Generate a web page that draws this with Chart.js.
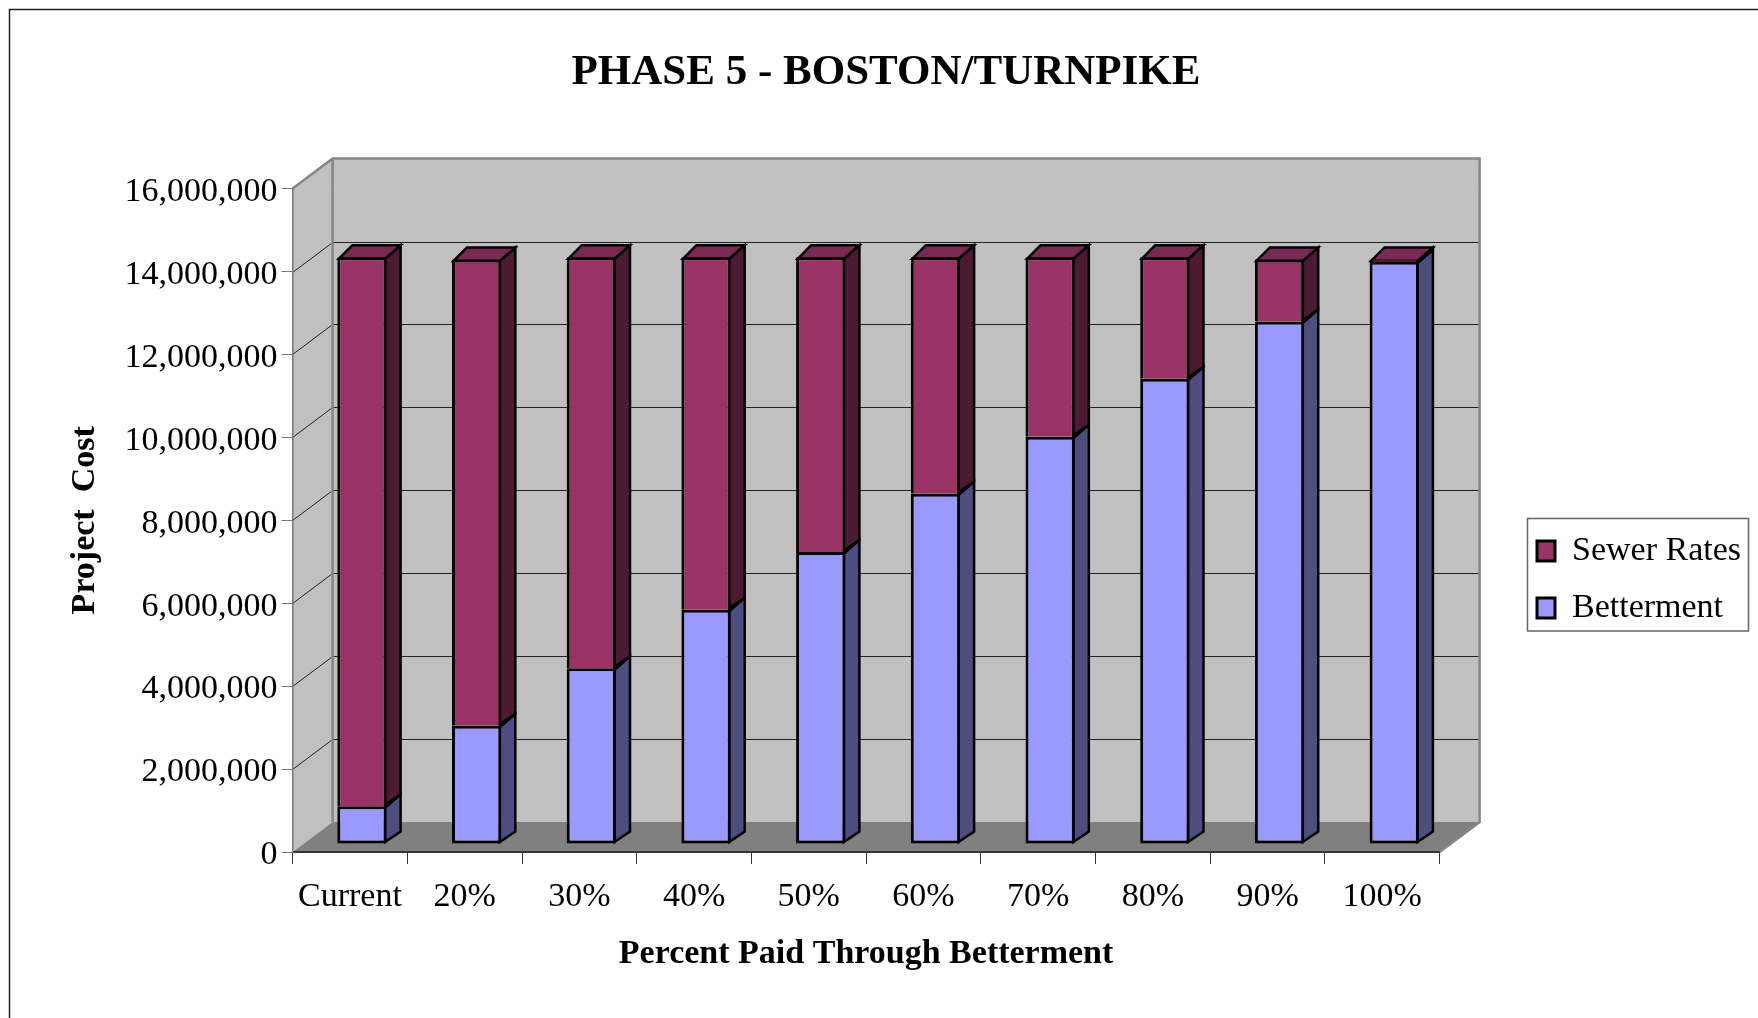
<!DOCTYPE html>
<html>
<head>
<meta charset="utf-8">
<title>Phase 5 - Boston/Turnpike</title>
<script src="https://cdn.jsdelivr.net/npm/chart.js@4/dist/chart.umd.min.js"></script>
<style>
  html, body { margin: 0; padding: 0; background: #fff; overflow: hidden; }
  canvas { display: block; }
</style>
</head>
<body>
<canvas id="myChart" width="1758" height="1018"></canvas>
<script>
const categories = ["Current", "20%", "30%", "40%", "50%", "60%", "70%", "80%", "90%", "100%"];
const betterment = [910000, 2850000, 4240000, 5650000, 7040000, 8450000, 9820000, 11220000, 12600000, 14040000];
const sewerRates = [13240000, 11250000, 9910000, 8500000, 7110000, 5700000, 4330000, 2930000, 1500000, 60000];
const yTicks = [0, 2000000, 4000000, 6000000, 8000000, 10000000, 12000000, 14000000, 16000000];

const serif = "'Liberation Serif', 'Times New Roman', serif";

// depth of the fake 3d box, and how deep the bars sit in it
const wallDx = 40, wallDy = 30;
const barShiftX = 12, barShiftY = 8;
const barDx = 14, barDy = 12;

const polygon = (ctx, pts, fill, stroke, lineWidth) => {
    ctx.beginPath();
    pts.forEach((p, i) => i ? ctx.lineTo(p[0], p[1]) : ctx.moveTo(p[0], p[1]));
    ctx.closePath();
    if (fill) {
        ctx.fillStyle = fill;
        ctx.fill();
    }
    if (stroke) {
        ctx.strokeStyle = stroke;
        ctx.lineWidth = lineWidth;
        ctx.lineJoin = 'miter';
        ctx.stroke();
    }
};

const box3d = {
    id: 'box3d',
    afterLayout(chart) {
        // legend sits outside the plot, move it to its own place
        const legend = chart.legend;
        const w = legend.width, h = legend.height;
        legend.left = 1514;
        legend.top = 511;
        legend.right = legend.left + w;
        legend.bottom = legend.top + h;
        legend.adjustHitBoxes();
        // title is centred on the whole page, not on the plot
        chart.titleBlock.left = 0;
        chart.titleBlock.right = 1772;
    },
    beforeDraw(chart) {
        const ctx = chart.ctx;
        const area = chart.chartArea;
        const y = chart.scales.y;
        const l = area.left, r = area.right, t = y.getPixelForValue(16000000), b = y.getPixelForValue(0);

        ctx.save();
        // page frame, runs off the right and bottom
        ctx.strokeStyle = '#222';
        ctx.lineWidth = 1.5;
        ctx.strokeRect(9.5, 9.5, 1900, 1200);

        polygon(ctx, [[l, b], [l, t], [l + wallDx, t - wallDy], [l + wallDx, b - wallDy]], '#c0c0c0');
        polygon(ctx, [[l + wallDx, t - wallDy], [r + wallDx, t - wallDy], [r + wallDx, b - wallDy], [l + wallDx, b - wallDy]], '#c0c0c0');
        polygon(ctx, [[l, b], [l + wallDx, b - wallDy], [r + wallDx, b - wallDy], [r, b]], '#808080');

        // gridlines on the back wall and the diagonals on the side wall
        ctx.lineWidth = 1;
        ctx.strokeStyle = '#222';
        yTicks.slice(1, -1).forEach((v) => {
            const py = Math.round(y.getPixelForValue(v)) + 0.5;
            ctx.beginPath();
            ctx.moveTo(l, py);
            ctx.lineTo(l + wallDx, py - wallDy);
            ctx.lineTo(r + wallDx, py - wallDy);
            ctx.stroke();
        });

        // wall edges
        ctx.strokeStyle = '#868686';
        ctx.lineWidth = 2.5;
        ctx.beginPath();
        ctx.moveTo(l, t);
        ctx.lineTo(l + wallDx, t - wallDy);
        ctx.lineTo(r + wallDx, t - wallDy);
        ctx.lineTo(r + wallDx, b - wallDy);
        ctx.lineTo(r, b);
        ctx.moveTo(l + wallDx, t - wallDy);
        ctx.lineTo(l + wallDx, b - wallDy);
        ctx.stroke();
        ctx.restore();
    },
    beforeDatasetsDraw(chart) {
        const ctx = chart.ctx;
        ctx.save();
        ctx.translate(barShiftX, -barShiftY);
        const sides = ['#4d4d80', '#4d1a33'];
        const last = chart.data.datasets.length - 1;
        chart.data.datasets.forEach((ds, i) => {
            chart.getDatasetMeta(i).data.forEach((bar) => {
                const p = bar.getProps(['x', 'y', 'base', 'width']);
                const x0 = p.x - p.width / 2, x1 = p.x + p.width / 2;
                polygon(ctx, [[x1 - 1.5, p.y + 1.5], [x1 + barDx, p.y - barDy], [x1 + barDx, p.base - barDy], [x1 - 1.5, p.base - 1.5]], sides[i], '#000', 2.5);
                if (i === last) {
                    polygon(ctx, [[x0 + 1.5, p.y + 1.5], [x0 + barDx + 1, p.y - barDy], [x1 + barDx, p.y - barDy], [x1 - 1.5, p.y + 1.5]], '#7a2952', '#000', 2.5);
                }
            });
        });
    },
    afterDatasetsDraw(chart) {
        chart.ctx.restore();
    },
    afterDraw(chart) {
        const ctx = chart.ctx;
        ctx.save();
        ctx.strokeStyle = '#666';
        ctx.lineWidth = 1.5;
        ctx.strokeRect(1527.5, 518.5, 221, 112.5);
        ctx.restore();
    }
};

const ctx = document.getElementById('myChart').getContext('2d');
const myChart = new Chart(ctx, {
    type: 'bar',
    data: {
        labels: categories,
        datasets: [{
            label: 'Betterment',
            data: betterment,
            backgroundColor: '#9999ff',
            borderColor: '#000',
            borderWidth: 3,
            borderSkipped: false,
            barPercentage: 0.43,
            categoryPercentage: 1
        }, {
            label: 'Sewer Rates',
            data: sewerRates,
            backgroundColor: '#993366',
            borderColor: '#000',
            borderWidth: 3,
            borderSkipped: 'bottom',
            barPercentage: 0.43,
            categoryPercentage: 1
        }]
    },
    options: {
        responsive: false,
        animation: false,
        layout: { padding: { left: 0, right: 318.4, top: 0, bottom: 0 } },
        plugins: {
            title: {
                display: true,
                text: 'PHASE 5 - BOSTON/TURNPIKE',
                color: '#000',
                font: { family: serif, size: 43, weight: 'bold', lineHeight: 1.2 },
                padding: { top: 47, bottom: 90 }
            },
            legend: {
                position: 'chartArea',
                align: 'start',
                reverse: true,
                labels: {
                    color: '#000',
                    boxWidth: 18,
                    boxHeight: 20,
                    padding: 23,
                    font: { family: serif, size: 34 }
                }
            },
            tooltip: { enabled: false }
        },
        scales: {
            x: {
                stacked: true,
                grid: { drawOnChartArea: false, drawTicks: true, tickLength: 12, color: '#333' },
                border: { color: '#333', width: 2 },
                ticks: {
                    color: '#000',
                    padding: 13,
                    maxRotation: 0,
                    autoSkip: false,
                    font: { family: serif, size: 34 }
                },
                title: {
                    display: true,
                    text: 'Percent Paid Through Betterment',
                    color: '#000',
                    font: { family: serif, size: 34, weight: 'bold' },
                    padding: { top: 0, bottom: 43 }
                },
                afterFit: (scale) => { scale.height = 1018 - 852; }
            },
            y: {
                stacked: true,
                min: 0,
                max: 16000000,
                afterBuildTicks: (scale) => { scale.ticks = yTicks.map((v) => ({ value: v })); },
                grid: { drawOnChartArea: false, drawTicks: true, tickLength: 11, color: '#777' },
                border: { color: '#777', width: 1.5 },
                ticks: {
                    color: '#000',
                    padding: 4,
                    font: { family: serif, size: 34, lineHeight: 0.2 },
                    // empty first line pushes the label down a bit, as in the original
                    callback: (v) => ['', Number(v).toLocaleString('en-US')]
                },
                title: {
                    display: true,
                    text: 'Project  Cost',
                    color: '#000',
                    font: { family: serif, size: 34, weight: 'bold' },
                    padding: { top: 65, bottom: 0 }
                },
                afterFit: (scale) => { scale.width = 292.6; }
            }
        }
    },
    plugins: [box3d]
});
</script>
</body>
</html>
